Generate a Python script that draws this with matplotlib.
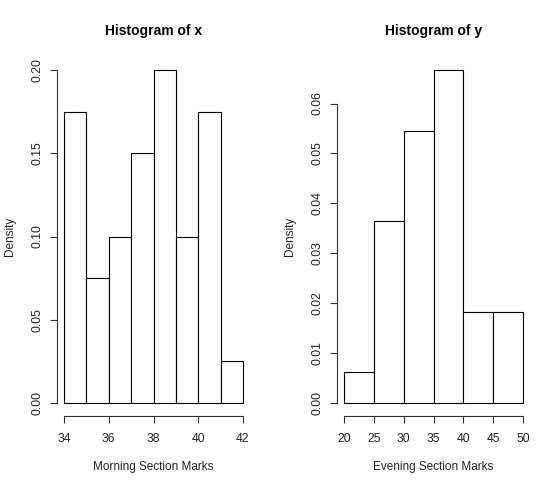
import numpy as np
import matplotlib
matplotlib.use("Agg")
import matplotlib.pyplot as plt

plt.rcParams['font.family'] = ['Liberation Sans', 'DejaVu Sans']

# morning section: bins of width 1
x_edges = [34, 35, 36, 37, 38, 39, 40, 41, 42]
x_density = [0.175, 0.075, 0.100, 0.150, 0.200, 0.100, 0.175, 0.025]
x_ticks = [34, 36, 38, 40, 42]
x_yticks = [0.00, 0.05, 0.10, 0.15, 0.20]
x_yticklabels = ["0.00", "0.05", "0.10", "0.15", "0.20"]

# evening section: bins of width 5
y_edges = [20, 25, 30, 35, 40, 45, 50]
y_density = [1/165, 6/165, 9/165, 11/165, 3/165, 3/165]
y_ticks = [20, 25, 30, 35, 40, 45, 50]
y_yticks = [0.00, 0.01, 0.02, 0.03, 0.04, 0.05, 0.06]
y_yticklabels = ["0.00", "0.01", "0.02", "0.03", "0.04", "0.05", "0.06"]

W, H = 560, 488
fig = plt.figure(figsize=(W / 100, H / 100), dpi=100)


def r_hist(left_px, edges, dens, xt, yt, ytl, title, xlabel):
    ax = fig.add_axes([left_px / W, (H - 416) / H, 193 / W, 359 / H])
    e = np.array(edges, dtype=float)
    ax.bar(e[:-1], dens, width=np.diff(e), align='edge',
           facecolor='white', edgecolor='black', linewidth=0.8)
    span = e[-1] - e[0]
    ax.set_xlim(e[0] - 0.04 * span, e[-1] + 0.04 * span)
    ymax = max(dens)
    ax.set_ylim(-0.04 * ymax, ymax * 1.04)
    for s in ['top', 'right']:
        ax.spines[s].set_visible(False)
    ax.spines['left'].set_bounds(yt[0], yt[-1])
    ax.spines['bottom'].set_bounds(xt[0], xt[-1])
    for s in ['left', 'bottom']:
        ax.spines[s].set_linewidth(0.8)
        ax.spines[s].set_color('#333333')
    ax.set_xticks(xt)
    ax.set_xticklabels([str(v) for v in xt])
    ax.set_yticks(yt)
    ax.set_yticklabels(ytl, rotation=90, va='center')
    ax.tick_params(length=5, width=0.8, color='#333333', labelsize=8.8,
                   labelcolor='#222222')
    ax.tick_params(axis='x', pad=7)
    ax.tick_params(axis='y', pad=5)
    ax.set_title(title, fontsize=10, fontweight='bold', pad=16)
    ax.set_xlabel(xlabel, fontsize=8.5, labelpad=12, color='#222222')
    ax.set_ylabel("Density", fontsize=8.5, labelpad=11, color='#222222')
    return ax


r_hist(57, x_edges, x_density, x_ticks, x_yticks, x_yticklabels,
       "Histogram of x", "Morning Section Marks")
r_hist(337, y_edges, y_density, y_ticks, y_yticks, y_yticklabels,
       "Histogram of y", "Evening Section Marks")

fig.savefig("out.png", dpi=100, facecolor='white')
